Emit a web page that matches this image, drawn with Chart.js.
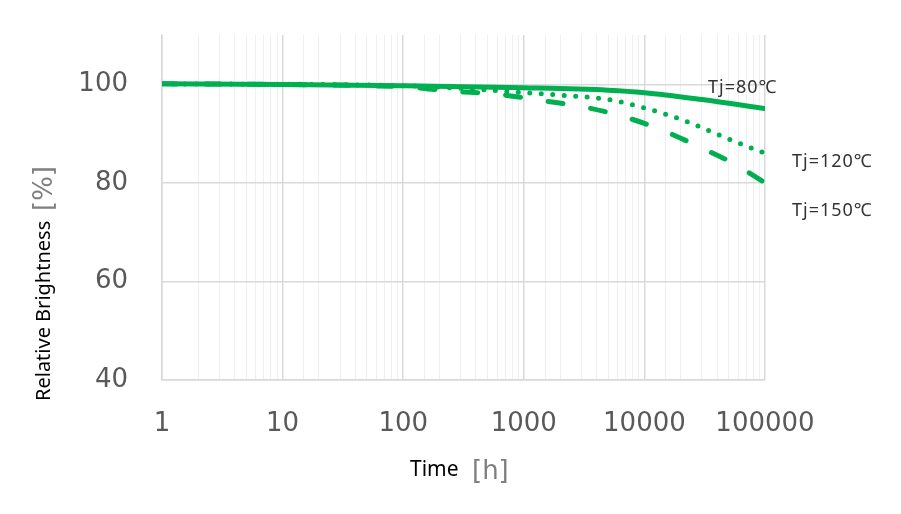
<!DOCTYPE html>
<html>
<head>
<meta charset="utf-8">
<script src="https://cdn.jsdelivr.net/npm/chart.js@4"></script>
<style>
  html, body { margin: 0; padding: 0; background: #fff; }
  #wrap { width: 901px; height: 514px; position: relative; }
</style>
</head>
<body>
<div id="wrap"><canvas id="chart"></canvas></div>
<script>
/* ─────────────────────────────────────────
   DATA
───────────────────────────────────────── */
const hours80  = [1, 10, 100, 1000, 5000, 10000, 30000, 100000];
const bright80 = [100.1, 99.95, 99.7, 99.3, 98.8, 98.3, 96.9, 95.1];

const hours120  = [1, 100, 400, 1000, 2000, 5000, 10000, 20000, 50000, 100000];
const bright120 = [100.1, 99.7, 99.0, 98.3, 97.8, 96.9, 95.2, 92.9, 88.9, 86.0];

const hours150  = [1, 100, 250, 600, 1400, 3000, 6600, 14000, 28000, 57000, 100000];
const bright150 = [100.1, 99.5, 98.6, 98.0, 96.7, 95.5, 93.5, 90.7, 87.4, 83.7, 80.0];

const seriesLabels = ['Tj=80℃', 'Tj=120℃', 'Tj=150℃'];
const yTicks = [40, 60, 80, 100];
const xDecades = [1, 10, 100, 1000, 10000, 100000];

const GREEN = '#00b050';
const toPoints = (xs, ys) => xs.map((x, i) => ({ x, y: ys[i] }));
const isDecade = v => { const l = Math.log10(v); return Math.abs(l - Math.round(l)) < 1e-9; };

/* ─────────────────────────────────────────
   TEXT PLUGIN — axis titles + series labels
───────────────────────────────────────── */
const textPlugin = {
  id: 'textPlugin',
  afterDraw(chart) {
    const { ctx, chartArea: a } = chart;
    ctx.save();

    // series labels
    ctx.fillStyle = '#333333';
    ctx.font = '18px "Noto Sans", "Noto Sans CJK JP", sans-serif';
    ctx.letterSpacing = '1px';
    ctx.textBaseline = 'middle';
    ctx.textAlign = 'left';
    ctx.fillText(seriesLabels[0], a.right - 57, 88);
    ctx.fillText(seriesLabels[1], a.right + 27, 162);
    ctx.fillText(seriesLabels[2], a.right + 27, 211);
    ctx.letterSpacing = '0px';

    // x title
    ctx.textBaseline = 'alphabetic';
    ctx.fillStyle = '#000';
    ctx.font = '21px "Noto Sans", sans-serif';
    ctx.fillText('Time', 410, 476);
    ctx.fillStyle = '#7f7f7f';
    ctx.font = '26px "DejaVu Sans", sans-serif';
    ctx.fillText('[h]', 472, 479);

    // y title (rotated)
    ctx.translate(50, 401);
    ctx.rotate(-Math.PI / 2);
    ctx.fillStyle = '#000';
    ctx.font = '20px "Noto Sans", sans-serif';
    ctx.fillText('Relative Brightness', 0, 0);
    ctx.fillStyle = '#7f7f7f';
    ctx.font = '26px "DejaVu Sans", sans-serif';
    ctx.fillText('[%]', 190, 2);

    ctx.restore();
  }
};

/* ─────────────────────────────────────────
   CHART
───────────────────────────────────────── */
const lineBase = {
  borderColor: GREEN,
  backgroundColor: GREEN,
  borderWidth: 5,
  pointRadius: 0,
  fill: false,
  cubicInterpolationMode: 'monotone',
  borderCapStyle: 'round',
};

new Chart(document.getElementById('chart'), {
  type: 'line',
  data: {
    datasets: [
      { ...lineBase, label: seriesLabels[2], data: toPoints(hours150, bright150), borderDash: [15, 28] },
      { ...lineBase, label: seriesLabels[1], data: toPoints(hours120, bright120), borderDash: [0, 11.5] },
      { ...lineBase, label: seriesLabels[0], data: toPoints(hours80, bright80) },
    ]
  },
  options: {
    responsive: true,
    maintainAspectRatio: false,
    animation: false,
    layout: { padding: { top: 35, right: 136, left: 0, bottom: 0 } },
    plugins: { legend: { display: false }, tooltip: { enabled: false } },
    scales: {
      x: {
        type: 'logarithmic',
        min: 1, max: 100000,
        afterFit: s => { s.height = 134; },
        grid: {
          drawTicks: false,
          color: c => (c.tick && isDecade(c.tick.value)) ? '#d9d9d9' : '#efefef',
          lineWidth: c => (c.tick && isDecade(c.tick.value)) ? 1.5 : 1,
        },
        border: { color: '#d9d9d9', width: 1.5 },
        ticks: {
          autoSkip: false, maxRotation: 0, padding: 29,
          color: '#595959',
          font: { family: '"DejaVu Sans", sans-serif', size: 26 },
          callback: v => xDecades.includes(v) ? String(v) : ''
        }
      },
      y: {
        min: 40, max: 110,
        afterFit: s => { s.width = 162; s.paddingTop = 0; s.paddingBottom = 0; },
        afterBuildTicks: s => { s.ticks = yTicks.map(v => ({ value: v })); },
        grid: { drawTicks: false, color: '#d9d9d9', lineWidth: 1.5 },
        border: { color: '#d9d9d9', width: 1.5 },
        ticks: {
          padding: 34, color: '#595959',
          font: { family: '"DejaVu Sans", sans-serif', size: 26 }
        }
      }
    }
  },
  plugins: [textPlugin]
});
</script>
</body>
</html>
